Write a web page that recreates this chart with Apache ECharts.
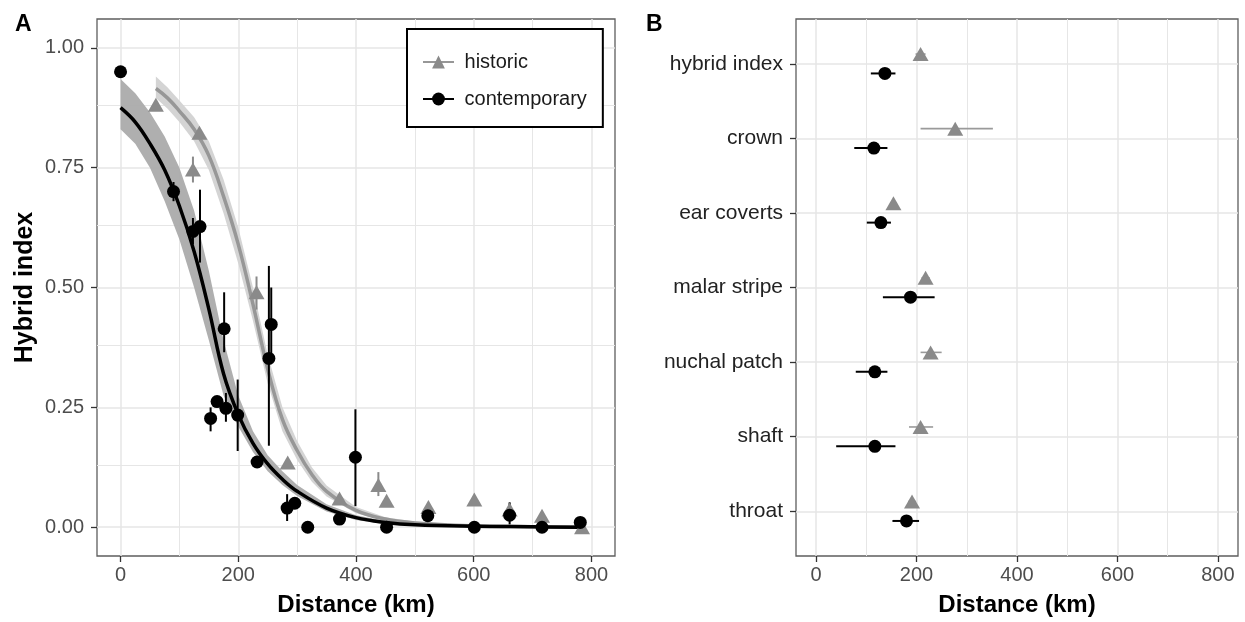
<!DOCTYPE html>
<html><head><meta charset="utf-8">
<script src="https://cdn.jsdelivr.net/npm/echarts@6/dist/echarts.min.js"></script>
<style>html,body{margin:0;padding:0;background:#fff}#c{width:1245px;height:622px}</style>
</head><body><div id="c"></div>
<script>
// ---------- Axis ticks ----------
const X_TICKS = [0, 200, 400, 600, 800];
const X_MINOR = [100, 300, 500, 700];
const Y_TICKS_A = [0, 0.25, 0.5, 0.75, 1.0];
const Y_MINOR_A = [0.125, 0.375, 0.625, 0.875];

// ---------- Panel A: contemporary sampling sites ----------
const contDist = [0, 90, 123, 135, 153, 164, 176, 179, 199, 232, 252, 256, 283, 296, 318, 372, 399, 452, 522, 601, 661, 716, 781];
const contHI   = [0.95, 0.70, 0.617, 0.627, 0.227, 0.262, 0.414, 0.248, 0.234, 0.136, 0.352, 0.423, 0.04, 0.05, 0.0, 0.017, 0.146, 0.0, 0.024, 0.0, 0.025, 0.0, 0.01];
const contLow  = [null, 0.68, 0.59, 0.552, 0.20, null, 0.365, 0.22, 0.159, null, 0.17, 0.35, 0.013, null, null, null, 0.044, null, null, null, 0.006, null, null];
const contHigh = [null, 0.72, 0.645, 0.704, 0.25, null, 0.49, 0.28, 0.308, null, 0.545, 0.50, 0.069, null, null, null, 0.246, null, null, null, 0.052, null, null];

// ---------- Panel A: historic sampling sites ----------
const histDist = [60, 123, 134, 231, 284, 372, 438, 452, 523, 601, 661, 716, 784];
const histHI   = [0.881, 0.746, 0.823, 0.49, 0.135, 0.06, 0.088, 0.055, 0.042, 0.058, 0.037, 0.024, 0.0];
const histLow  = [null, 0.719, null, 0.454, null, null, 0.065, null, null, null, 0.03, null, null];
const histHigh = [null, 0.773, null, 0.523, null, null, 0.115, null, null, null, 0.05, null, null];

// ---------- Panel A: fitted clines ----------
const contFitX   = [0, 25, 50, 75, 100, 125, 150, 175, 200, 225, 250, 275, 300, 350, 400, 450, 500, 600, 700, 780];
const contFitY   = [0.875, 0.845, 0.80, 0.745, 0.67, 0.575, 0.455, 0.32, 0.235, 0.175, 0.132, 0.10, 0.075, 0.04, 0.02, 0.01, 0.005, 0.002, 0.001, 0.0];
const contBandLo = [0.83, 0.80, 0.75, 0.68, 0.60, 0.50, 0.39, 0.275, 0.21, 0.157, 0.117, 0.088, 0.065, 0.033, 0.015, 0.006, 0.003, 0.0, 0.0, 0.0];
const contBandHi = [0.935, 0.905, 0.865, 0.815, 0.75, 0.66, 0.535, 0.39, 0.275, 0.20, 0.15, 0.117, 0.088, 0.048, 0.025, 0.013, 0.007, 0.003, 0.002, 0.001];

const histFitX   = [60, 80, 100, 125, 150, 175, 200, 225, 250, 275, 300, 325, 350, 400, 450, 500, 600, 700, 780];
const histFitY   = [0.915, 0.895, 0.868, 0.83, 0.775, 0.69, 0.59, 0.465, 0.33, 0.225, 0.16, 0.11, 0.075, 0.035, 0.017, 0.009, 0.003, 0.001, 0.0];
const histBandLo = [0.895, 0.873, 0.845, 0.805, 0.745, 0.655, 0.55, 0.43, 0.30, 0.20, 0.14, 0.095, 0.064, 0.029, 0.013, 0.007, 0.002, 0.0, 0.0];
const histBandHi = [0.94, 0.917, 0.89, 0.855, 0.805, 0.725, 0.625, 0.50, 0.36, 0.25, 0.18, 0.125, 0.087, 0.042, 0.021, 0.012, 0.004, 0.002, 0.001];

// ---------- Panel B: cline centres per trait ----------
const traits     = ['hybrid index', 'crown', 'ear coverts', 'malar stripe', 'nuchal patch', 'shaft', 'throat'];
const histCentre = [208, 277, 154, 218, 228, 208, 191];
const histCLo    = [198, 208, 148, 210, 208, 185, 183];
const histCHi    = [218, 352, 160, 226, 250, 233, 199];
const contCentre = [137, 115, 129, 188, 117, 117, 180];
const contCLo    = [109, 76, 101, 133, 79, 40, 152];
const contCHi    = [158, 142, 149, 236, 142, 158, 205];
const TRAIT_POS  = [1, 2, 3, 4, 5, 6, 7];

// ---------- styling ----------
const FONT = '"Liberation Sans", Arial, Helvetica, sans-serif';
const GREY_PT = '#8a8a8a';
const GREY_LINE = '#979797';
const GRID_COL = '#e6e6e6';
const DODGE = 0.13;

const chart = echarts.init(document.getElementById('c'), null, {renderer: 'canvas'});

function xAxisDef(gridIndex) {
  return {
    type: 'value', gridIndex: gridIndex, min: -40, max: 840,
    name: 'Distance (km)', nameLocation: 'middle', nameGap: 37,
    nameTextStyle: {fontFamily: FONT, fontSize: 24, fontWeight: 'bold', color: '#000'},
    axisLine: {show: false, onZero: false},
    axisTick: {show: true, length: 6, customValues: X_TICKS, lineStyle: {color: '#333', width: 1.3}},
    axisLabel: {customValues: X_TICKS, fontFamily: FONT, fontSize: 20, color: '#4d4d4d', margin: 9},
    splitLine: {show: true, lineStyle: {color: GRID_COL, width: 1.5}},
    minorTick: {show: false}, minorSplitLine: {show: false}
  };
}

function bandSeries(xs, lo, hi, fill, opacity) {
  return {
    type: 'custom', xAxisIndex: 0, yAxisIndex: 0, silent: true, z: 2, clip: true,
    data: [[xs[0], lo[0]]],
    renderItem: function (params, api) {
      const pts = [];
      for (let i = 0; i < xs.length; i++) pts.push(api.coord([xs[i], hi[i]]));
      for (let i = xs.length - 1; i >= 0; i--) pts.push(api.coord([xs[i], lo[i]]));
      return {type: 'polygon', shape: {points: pts}, style: {fill: fill, opacity: opacity}};
    }
  };
}

function vBars(xs, ys, lo, hi, color, width) {
  const data = [];
  for (let i = 0; i < xs.length; i++) if (lo[i] !== null) data.push([xs[i], ys[i], lo[i], hi[i]]);
  return {
    type: 'custom', xAxisIndex: 0, yAxisIndex: 0, silent: true, z: 4,
    data: data,
    renderItem: function (params, api) {
      const a = api.coord([api.value(0), api.value(2)]);
      const b = api.coord([api.value(0), api.value(3)]);
      return {type: 'line', shape: {x1: a[0], y1: a[1], x2: b[0], y2: b[1]}, style: {stroke: color, lineWidth: width}};
    }
  };
}

function hBars(centres, lo, hi, offset, color, width) {
  const data = centres.map((c, i) => [c, TRAIT_POS[i] + offset, lo[i], hi[i]]);
  return {
    type: 'custom', xAxisIndex: 1, yAxisIndex: 1, silent: true, z: 4,
    data: data,
    renderItem: function (params, api) {
      const a = api.coord([api.value(2), api.value(1)]);
      const b = api.coord([api.value(3), api.value(1)]);
      return {type: 'line', shape: {x1: a[0], y1: a[1], x2: b[0], y2: b[1]}, style: {stroke: color, lineWidth: width}};
    }
  };
}

const option = {
  animation: false,
  backgroundColor: '#fff',
  title: [
    {text: 'A', left: 10, top: 8, textStyle: {fontFamily: FONT, fontSize: 23, fontWeight: 'bold', color: '#000'}},
    {text: 'B', left: 641, top: 8, textStyle: {fontFamily: FONT, fontSize: 23, fontWeight: 'bold', color: '#000'}}
  ],
  grid: [
    {left: 97, top: 19, width: 518, height: 538, show: true, borderColor: '#5e5e5e', borderWidth: 1.3, backgroundColor: '#fff'},
    {left: 796, top: 19, width: 442, height: 538, show: true, borderColor: '#5e5e5e', borderWidth: 1.3, backgroundColor: '#fff'}
  ],
  xAxis: [xAxisDef(0), xAxisDef(1)],
  yAxis: [
    {
      type: 'value', gridIndex: 0, min: -0.06, max: 1.06,
      name: 'Hybrid index', nameLocation: 'middle', nameGap: 59,
      nameTextStyle: {fontFamily: FONT, fontSize: 25, fontWeight: 'bold', color: '#000'},
      axisLine: {show: false, onZero: false},
      axisTick: {show: true, length: 6, customValues: Y_TICKS_A, lineStyle: {color: '#333', width: 1.3}},
      axisLabel: {customValues: Y_TICKS_A, formatter: v => v.toFixed(2), fontFamily: FONT, fontSize: 20, color: '#4d4d4d', margin: 13},
      splitLine: {show: true, lineStyle: {color: GRID_COL, width: 1.5}}
    },
    {
      type: 'value', gridIndex: 1, min: 0.4, max: 7.6, inverse: true,
      axisLine: {show: false, onZero: false},
      axisTick: {show: true, length: 6, customValues: TRAIT_POS, lineStyle: {color: '#333', width: 1.3}},
      axisLabel: {customValues: TRAIT_POS, formatter: v => traits[Math.round(v) - 1], fontFamily: FONT, fontSize: 21, color: '#222', margin: 13},
      splitLine: {show: true, lineStyle: {color: GRID_COL, width: 1.5}}
    }
  ],
  legend: {
    data: ['historic', 'contemporary'],
    orient: 'vertical', left: 407, top: 29, z: 20,
    padding: [21, 16, 16, 15], itemGap: 13,
    itemWidth: 31, itemHeight: 16,
    borderColor: '#000', borderWidth: 2, backgroundColor: '#fff',
    selectedMode: false,
    lineStyle: {width: 2},
    formatter: ' {name}',
    textStyle: {fontFamily: FONT, fontSize: 20, lineHeight: 24, color: '#1a1a1a', overflow: 'none'}
  },
  series: [
    {
      type: 'line', xAxisIndex: 0, yAxisIndex: 0, data: [], z: 1, silent: true,
      markLine: {
        silent: true, z: 1, symbol: ['none', 'none'], label: {show: false},
        lineStyle: {color: GRID_COL, width: 1, type: 'solid'},
        data: X_MINOR.map(v => ({xAxis: v})).concat(Y_MINOR_A.map(v => ({yAxis: v})))
      }
    },
    {
      type: 'line', xAxisIndex: 1, yAxisIndex: 1, data: [], z: 1, silent: true,
      markLine: {
        silent: true, z: 1, symbol: ['none', 'none'], label: {show: false},
        lineStyle: {color: GRID_COL, width: 1, type: 'solid'},
        data: X_MINOR.map(v => ({xAxis: v}))
      }
    },
    bandSeries(histFitX, histBandLo, histBandHi, '#d4d4d4', 1),
    bandSeries(contFitX, contBandLo, contBandHi, '#ababab', 0.95),
    {
      name: 'historic', type: 'line', xAxisIndex: 0, yAxisIndex: 0, z: 3,
      data: histFitX.map((x, i) => [x, histFitY[i]]),
      smooth: 0.4, symbol: 'triangle', symbolSize: [15, 13], showSymbol: false,
      itemStyle: {color: GREY_PT}, lineStyle: {color: GREY_LINE, width: 3.5}
    },
    {
      name: 'contemporary', type: 'line', xAxisIndex: 0, yAxisIndex: 0, z: 3,
      data: contFitX.map((x, i) => [x, contFitY[i]]),
      smooth: 0.4, symbol: 'circle', symbolSize: 13, showSymbol: false,
      itemStyle: {color: '#000'}, lineStyle: {color: '#000', width: 3.5}
    },
    vBars(histDist, histHI, histLow, histHigh, GREY_PT, 2),
    vBars(contDist, contHI, contLow, contHigh, '#000', 2),
    {
      name: 'historic sites', type: 'scatter', xAxisIndex: 0, yAxisIndex: 0, z: 5,
      data: histDist.map((x, i) => [x, histHI[i]]),
      symbol: 'triangle', symbolSize: [16, 14], itemStyle: {color: GREY_PT, opacity: 1}
    },
    {
      name: 'contemporary sites', type: 'scatter', xAxisIndex: 0, yAxisIndex: 0, z: 5,
      data: contDist.map((x, i) => [x, contHI[i]]),
      symbol: 'circle', symbolSize: 13, itemStyle: {color: '#000', opacity: 1}
    },
    hBars(histCentre, histCLo, histCHi, -DODGE, '#9a9a9a', 1.6),
    hBars(contCentre, contCLo, contCHi, DODGE, '#000', 2),
    {
      name: 'historic centres', type: 'scatter', xAxisIndex: 1, yAxisIndex: 1, z: 5,
      data: histCentre.map((c, i) => [c, TRAIT_POS[i] - DODGE]),
      symbol: 'triangle', symbolSize: [16, 14], itemStyle: {color: GREY_PT, opacity: 1}
    },
    {
      name: 'contemporary centres', type: 'scatter', xAxisIndex: 1, yAxisIndex: 1, z: 5,
      data: contCentre.map((c, i) => [c, TRAIT_POS[i] + DODGE]),
      symbol: 'circle', symbolSize: 13, itemStyle: {color: '#000', opacity: 1}
    }
  ]
};
chart.setOption(option);
</script></body></html>
